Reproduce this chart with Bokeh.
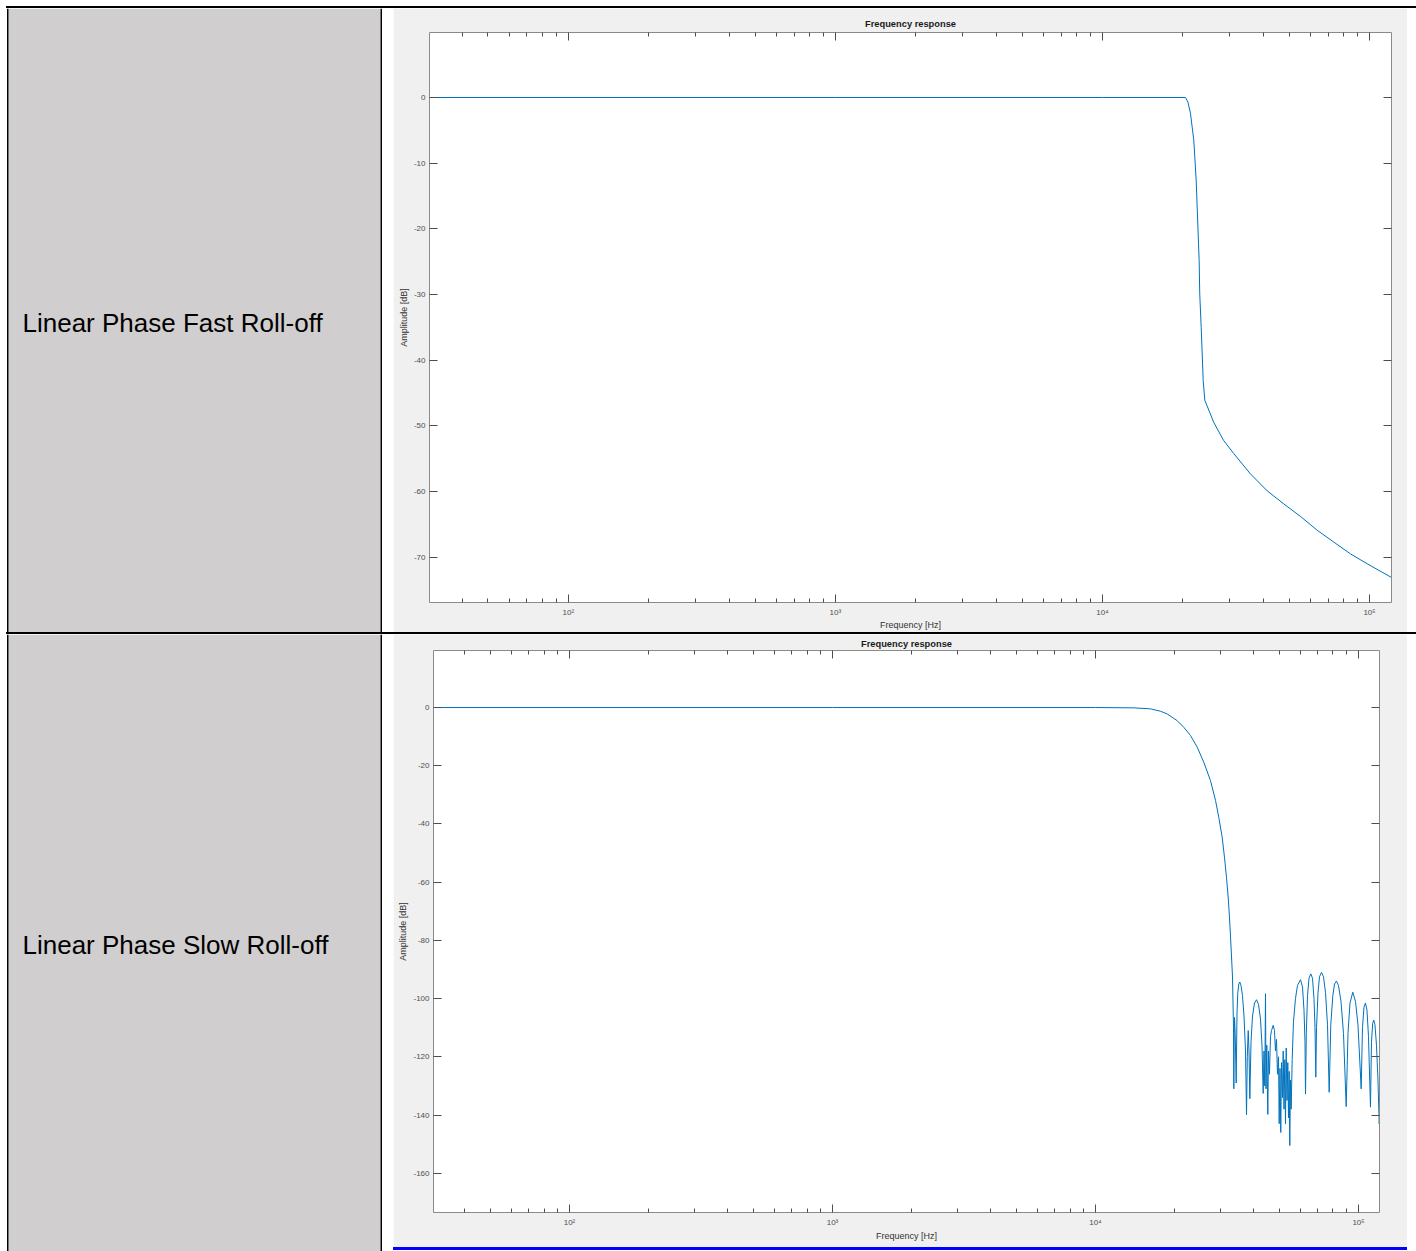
from bokeh.plotting import figure
from bokeh.layouts import column, row
from bokeh.models import (Range1d, FixedTicker, LogAxis, LinearAxis, Spacer, Div,
                          CustomJSTickFormatter)
from bokeh.core.properties import value
from bokeh.embed import file_html
from bokeh.resources import INLINE

# ---------------- data ----------------
row_labels = ["Linear Phase Fast Roll-off", "Linear Phase Slow Roll-off"]
plot_title = "Frequency response"
x_label = "Frequency [Hz]"
y_label = "Amplitude [dB]"

x_ticks = [100, 1000, 10000, 100000]
x_tick_labels = ["10²", "10³", "10⁴", "10⁵"]
x_minor_ticks = [40, 50, 60, 70, 80, 90,
                 200, 300, 400, 500, 600, 700, 800, 900,
                 2000, 3000, 4000, 5000, 6000, 7000, 8000, 9000,
                 20000, 30000, 40000, 50000, 60000, 70000, 80000, 90000]
y_ticks_fast = [10, 0, -10, -20, -30, -40, -50, -60, -70]
y_tick_labels_fast = ["10", "0", "-10", "-20", "-30", "-40", "-50", "-60", "-70"]
y_ticks_slow = [0, -20, -40, -60, -80, -100, -120, -140, -160]
y_tick_labels_slow = ["0", "-20", "-40", "-60", "-80", "-100", "-120", "-140", "-160"]

# Linear Phase Fast Roll-off response (Hz, dB)
freq_fast = [30, 1000, 10000, 20460, 20900, 21360, 21980, 22440, 23020, 23140,
             23430, 23840, 24170, 26130, 28400, 31000, 35800, 41400, 47800,
             55200, 63700, 73500, 84900, 98000, 121000]
amp_fast = [0.0, 0.0, 0.0, 0.0, -0.7, -2.4, -6.5, -12.6, -24.8, -29.9,
            -35.0, -43.1, -46.1, -49.5, -52.2, -54.2, -57.3, -59.9, -61.9,
            -63.8, -65.9, -67.7, -69.5, -71.0, -73.1]

# Linear Phase Slow Roll-off response (Hz, dB)
freq_slow = [30, 1000, 10000, 13980, 16190, 17670, 18730, 20440, 21670, 22970,
             24360, 25810, 27370, 28600, 29430, 30310, 30930, 31480, 31950,
             32320, 32620, 32910, 33190,
             33480, 33570, 33690, 33770, 33980, 34280, 34520, 34760, 35070, 35380,
             35750, 36220, 36700, 37190, 37520, 37780, 38080, 38350, 38620, 39030,
             39540, 40240, 40950, 41670, 42400, 42960, 43420, 43720, 44030, 44300,
             44500, 44810, 45210, 45470, 45870, 46280, 46690, 47390, 47930, 48350,
             48780, 49200, 49640, 49950, 50300, 50650, 50960, 51410, 51730, 52090,
             52460, 52780, 53110, 53480, 53860, 54180, 54510, 54800, 55130, 55470,
             55960, 56600, 57600, 58620, 60190, 61260, 62070, 62610, 62890, 63330,
             64000, 64840, 65870, 66860, 67740, 68340, 68820, 69240, 70160, 71080,
             72340, 73620, 74920, 76240, 77380, 78470, 79860, 81060, 82490, 83940,
             85800, 87700, 89800, 91220, 92830, 95130, 97410, 99560, 102390, 103560,
             104930, 106320, 107720, 109150, 111070, 112050, 113230, 114330, 115540,
             117060, 118610, 119860, 120710]
amp_slow = [0.0, 0.0, 0.0, -0.1, -0.45, -1.26, -2.2, -4.5, -6.8, -9.6,
            -13.6, -18.8, -25.1, -31.9, -37.7, -44.5, -51.4, -58.3, -65.1,
            -72.0, -78.9, -85.7, -92.6,
            -110, -131, -112, -106.5, -112, -129, -105, -98, -95, -94.3,
            -95.5, -99, -106, -118, -140, -120, -111, -118, -134.4, -115,
            -106, -101.5, -100.4, -102, -107, -116, -132.6, -118, -130, -98.3,
            -131, -116, -139.8, -118, -126, -113, -111, -109.2, -111, -118,
            -114, -126, -120, -143, -124, -146, -122, -134, -118, -138,
            -121, -143, -117, -135, -122, -141, -125, -150.5, -128, -138,
            -121, -108, -100, -95.5, -93.5, -96, -104, -115, -132.8, -112,
            -99, -93, -91.5, -93, -100, -110, -127, -110, -98, -92.5,
            -91.0, -92.5, -98, -109, -132.2, -109, -99, -95, -94.0, -95.5,
            -101, -112, -137.1, -112, -101.5, -97.8, -101, -109, -131, -110,
            -103, -101.5, -104, -113, -137.3, -115, -108.5, -107.4, -109,
            -116, -128, -143, -140]

# ---------------- style ----------------
LINE = "#0072BD"
CELL_GRAY = "#D0CECE"
FIG_GRAY = "#F0F0F0"
FONT = "Liberation Sans"
W = 1416


def style_axis(ax, labels=True, vertical=False, xstand=7, lstand=1):
    ax.axis_line_color = "#8a8a8a"
    ax.axis_line_width = 1
    ax.major_tick_line_color = "#4d4d4d"
    ax.minor_tick_line_color = "#4d4d4d"
    ax.major_tick_in = 8
    ax.major_tick_out = 0
    ax.minor_tick_in = 4
    ax.minor_tick_out = 0
    ax.major_label_text_font = FONT
    ax.axis_label_text_font = FONT
    ax.axis_label_text_font_style = "normal"
    ax.axis_label_text_color = "#333333"
    ax.axis_label_text_font_size = "9px"
    if labels:
        ax.major_label_text_color = "#4d4d4d"
        ax.major_label_text_font_size = "8px"
        if vertical:
            ax.major_label_standoff = 4
            ax.axis_label_standoff = 2
        else:
            ax.major_label_standoff = xstand
            ax.axis_label_standoff = lstand
    else:
        ax.formatter = CustomJSTickFormatter(code="return ' ';")
        ax.major_label_text_font_size = "1px"
        ax.major_label_text_color = None
        ax.major_label_standoff = 0


def freq_plot(freq, amp, xr, yr, yticks, ylabels, w, h, bl, br, bt, bb, ts, xstand, lstand):
    p = figure(width=w, height=h, x_axis_type="log",
               x_range=Range1d(*xr), y_range=Range1d(*yr),
               output_backend="svg", toolbar_location=None,
               min_border_left=bl, min_border_right=br,
               min_border_top=bt, min_border_bottom=bb,
               border_fill_color=FIG_GRAY, background_fill_color="white",
               outline_line_color=None, title=plot_title, frame_align=False)
    p.title.align = "center"
    p.title.text_font = FONT
    p.title.text_font_size = "9.3px"
    p.title.text_font_style = "bold"
    p.title.text_color = "#1a1a1a"
    p.title.standoff = ts
    p.xgrid.visible = False
    p.ygrid.visible = False
    p.line(freq, amp, line_color=LINE, line_width=1)

    p.xaxis.ticker = FixedTicker(ticks=x_ticks, minor_ticks=x_minor_ticks)
    p.xaxis.major_label_overrides = dict(zip(x_ticks, x_tick_labels))
    p.xaxis.axis_label = x_label
    p.yaxis.ticker = FixedTicker(ticks=yticks)
    p.yaxis.major_label_overrides = dict(zip(yticks, ylabels))
    p.yaxis.axis_label = y_label
    style_axis(p.xaxis[0], xstand=xstand, lstand=lstand)
    style_axis(p.yaxis[0], vertical=True)

    top = LogAxis(ticker=FixedTicker(ticks=x_ticks, minor_ticks=x_minor_ticks))
    style_axis(top, labels=False)
    p.add_layout(top, "above")
    right = LinearAxis(ticker=FixedTicker(ticks=yticks))
    style_axis(right, labels=False)
    p.add_layout(right, "right")
    return p


def label_cell(text, w, h, ty):
    p = figure(width=w, height=h, x_range=Range1d(0, w), y_range=Range1d(h, 0),
               output_backend="svg", toolbar_location=None,
               min_border=0, x_axis_location=None, y_axis_location=None,
               background_fill_color="white", border_fill_color="white",
               outline_line_color=None, frame_align=False)
    p.xgrid.visible = False
    p.ygrid.visible = False
    p.quad(left=[8], right=[380], bottom=[h], top=[0], fill_color=CELL_GRAY, line_color=None)
    p.quad(left=[6.5], right=[8], bottom=[h], top=[0], fill_color="black", line_color=None)
    p.quad(left=[380], right=[382], bottom=[h], top=[0], fill_color="black", line_color=None)
    p.text(x=[22], y=[ty], text=[text], text_font=value(FONT),
           text_font_size="26px", text_baseline="middle", text_align="left",
           text_color="black")
    return p


def bar(w, h, color):
    return Div(text="", width=w, height=h, margin=0,
               styles={"background-color": color})


p1 = freq_plot(freq_fast, amp_fast, (30.2, 120900), (-76.9, 9.9),
               y_ticks_fast, y_tick_labels_fast, 1014, 624, 36, 16, 24, 30, 7.5, 5, 0)
p2 = freq_plot(freq_slow, amp_slow, (30.4, 120200), (-173.5, 19.6),
               y_ticks_slow, y_tick_labels_slow, 1014, 613, 40, 28, 16, 35, 3.5, 5, 1)

l1 = label_cell(row_labels[0], 382, 624, 314)
l2 = label_cell(row_labels[1], 382, 617, 310)

layout = column(
    row(Spacer(width=6, height=8),
        column(Spacer(width=W - 6, height=6), bar(W - 6, 2, "black"))),
    row(l1, Spacer(width=11, height=624), p1, Spacer(width=9, height=624)),
    row(Spacer(width=6, height=2), bar(W - 6, 2, "black")),
    row(l2, Spacer(width=11, height=617),
        column(p2, bar(1014, 3, "#0000FF"), Spacer(width=1014, height=1)),
        Spacer(width=9, height=617)),
)

open("out.html", "w").write(file_html(layout, INLINE))
